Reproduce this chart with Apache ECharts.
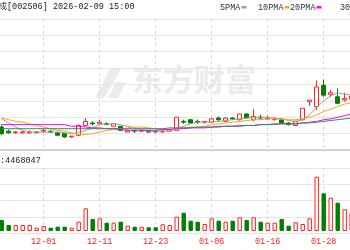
<!DOCTYPE html>
<html><head><meta charset="utf-8">
<script src="https://cdn.jsdelivr.net/npm/echarts@6/dist/echarts.min.js"></script>
<style>html,body{margin:0;padding:0;background:#fff;overflow:hidden}#c{width:350px;height:250px}</style>
</head><body><div id="c"></div>
<script>
const dates = ['11-20','11-21','11-24','11-25','11-26','11-27','11-28','12-01','12-02','12-03','12-04','12-05','12-08','12-09','12-10','12-11','12-12','12-15','12-16','12-17','12-18','12-19','12-22','12-23','12-24','12-25','12-26','12-29','12-30','12-31','01-05','01-06','01-07','01-08','01-09','01-12','01-13','01-14','01-15','01-16','01-19','01-20','01-21','01-22','01-23','01-26','01-27','01-28','01-29','01-30','02-02','02-03'];
// [open, close, low, high] from 11-21 onward (11-20 is outside the picture)
const candles = [
[2.68,2.60,2.58,2.71],[2.63,2.61,2.60,2.65],[2.61,2.62,2.60,2.63],[2.61,2.62,2.60,2.63],[2.61,2.62,2.60,2.64],
[2.61,2.62,2.61,2.63],[2.63,2.64,2.61,2.66],[2.63,2.62,2.61,2.64],[2.61,2.58,2.58,2.62],[2.60,2.56,2.55,2.60],
[2.56,2.57,2.55,2.57],[2.58,2.70,2.57,2.71],[2.70,2.75,2.69,2.79],[2.73,2.72,2.70,2.75],[2.72,2.74,2.71,2.77],
[2.72,2.71,2.71,2.74],[2.69,2.72,2.69,2.72],[2.69,2.64,2.64,2.69],[2.62,2.64,2.62,2.65],[2.64,2.63,2.61,2.65],
[2.63,2.64,2.62,2.64],[2.64,2.62,2.61,2.64],[2.63,2.62,2.61,2.64],[2.62,2.63,2.61,2.64],[2.63,2.65,2.62,2.66],
[2.64,2.80,2.64,2.80],[2.75,2.74,2.72,2.77],[2.77,2.73,2.72,2.78],[2.75,2.74,2.72,2.77],[2.74,2.75,2.72,2.75],
[2.74,2.78,2.73,2.79],[2.79,2.77,2.75,2.81],[2.75,2.79,2.74,2.80],[2.79,2.78,2.77,2.80],[2.77,2.84,2.76,2.84],
[2.84,2.79,2.79,2.85],[2.77,2.81,2.75,2.90],[2.80,2.79,2.77,2.83],[2.78,2.79,2.77,2.82],[2.77,2.78,2.76,2.80],
[2.77,2.73,2.72,2.79],[2.73,2.71,2.70,2.74],[2.70,2.75,2.70,2.75],[2.77,2.91,2.76,2.91],[2.99,3.01,2.94,3.01],
[2.93,3.17,2.89,3.25],[3.19,3.07,3.05,3.26],[3.08,3.10,3.05,3.13],[3.05,2.97,2.96,3.15],[3.01,3.03,2.99,3.10],
[3.02,3.06,2.99,3.08]
];
const ma5 = [2.78,2.73,2.68,2.64,2.62,2.62,2.62,2.62,2.62,2.61,2.60,2.61,2.64,2.67,2.71,2.72,2.72,2.71,2.69,2.67,2.65,2.63,2.63,2.63,2.63,2.67,2.69,2.72,2.74,2.74,2.74,2.75,2.76,2.77,2.78,2.79,2.80,2.80,2.80,2.79,2.78,2.76,2.75,2.77,2.83,2.92,3.00,3.06,3.10,3.08,3.07];
const ma10 = [2.79,2.77,2.75,2.74,2.72,2.70,2.68,2.66,2.64,2.63,2.61,2.59,2.59,2.60,2.62,2.64,2.65,2.66,2.67,2.68,2.68,2.67,2.66,2.65,2.65,2.66,2.67,2.68,2.68,2.69,2.71,2.72,2.73,2.74,2.75,2.76,2.77,2.77,2.78,2.78,2.78,2.77,2.77,2.78,2.80,2.83,2.87,2.90,2.93,2.96,2.98];
const ma20 = [2.71,2.71,2.71,2.71,2.71,2.71,2.71,2.71,2.71,2.71,2.69,2.69,2.68,2.67,2.67,2.66,2.66,2.65,2.64,2.64,2.64,2.64,2.64,2.65,2.65,2.66,2.66,2.67,2.67,2.67,2.68,2.68,2.69,2.69,2.69,2.70,2.70,2.71,2.71,2.72,2.72,2.72,2.72,2.73,2.74,2.75,2.77,2.78,2.80,2.82,2.84];
const ma30 = [2.66,2.66,2.66,2.66,2.66,2.66,2.66,2.66,2.66,2.66,2.66,2.66,2.66,2.66,2.66,2.66,2.66,2.66,2.66,2.66,2.66,2.66,2.66,2.66,2.67,2.67,2.67,2.67,2.68,2.68,2.68,2.69,2.69,2.69,2.70,2.70,2.70,2.71,2.71,2.71,2.72,2.72,2.72,2.73,2.73,2.74,2.75,2.76,2.77,2.78,2.79];
const volumes = [1015000,554000,554000,554000,554000,305000,462000,305000,397000,397000,305000,858000,2095000,1108000,1172000,766000,766000,858000,489000,397000,397000,342000,342000,618000,554000,1320000,1689000,951000,858000,646000,1172000,951000,858000,951000,1265000,1015000,1265000,858000,766000,766000,1108000,489000,803000,646000,1172000,5012000,3480000,3074000,2612000,2003000,1689000];
const title = '成[002506] 2026-02-09 15:00';
const volLabel = ':4468047';
const legendItems = [['5PMA','#a0a0a0'],['10PMA','#f5a623'],['20PMA','#ff00ff'],['30PMA','#2e8b57']];

const UP = '#ff2020', DOWN = '#008000';
const pad = v => ['-'].concat(v);
const volData = ['-'].concat(volumes.map((v, i) => {
  const up = candles[i][1] >= candles[i][0];
  return {value: v, itemStyle: up ? {color:'#fff', borderColor: UP, borderWidth: 1} : {color: DOWN, borderColor: DOWN, borderWidth: 1}};
}));
const labelInt = i => i >= 7 && (i - 7) % 8 === 0;
const mono = '"Liberation Mono","Noto Sans CJK SC",monospace';

const chart = echarts.init(document.getElementById('c'), null, {renderer: 'canvas'});
const legendGraphics = [];
const legendX = [220, 258, 290, 340];
legendItems.forEach((it, k) => {
  legendGraphics.push({type:'text', x: legendX[k], y: 3, style:{text: it[0], font: '8.5px ' + mono, fill:'#333'}});
  legendGraphics.push({type:'rect', shape:{x: legendX[k] + it[0].length*5.1 + 1, y: 6, width: 5, height: 2.5}, style:{fill: it[1]}});
});
chart.setOption({
  animation: false,
  backgroundColor: '#fff',
  grid: [
    {left: -5.3, top: 19, width: 357, height: 131, outerBoundsMode: 'none', containLabel: false},
    {left: -5.3, top: 168, width: 357, height: 65, outerBoundsMode: 'none', containLabel: false}
  ],
  xAxis: [
    {type:'category', gridIndex:0, data: dates, boundaryGap:false,
     axisLine:{show:true, lineStyle:{color:'#c8c8c8', width:1.5}}, axisTick:{show:false}, axisLabel:{show:false},
     splitLine:{show:true, interval: labelInt, lineStyle:{color:'#d8d8d8', type:[3,3]}}},
    {type:'category', gridIndex:1, data: dates, boundaryGap:false,
     axisLine:{show:false}, axisTick:{show:false},
     axisLabel:{show:true, interval: labelInt, color:'#ff2020', fontSize:8.5, fontFamily: mono, margin:4},
     splitLine:{show:true, interval: labelInt, lineStyle:{color:'#d8d8d8', type:[3,3]}}}
  ],
  yAxis: [
    {type:'value', gridIndex:0, min:2.4, max:4.0, interval:0.2, axisLine:{show:false}, axisTick:{show:false}, axisLabel:{show:false},
     splitLine:{show:true, lineStyle:{color:'#e6e6e6'}}},
    {type:'value', gridIndex:1, min:0, max:6000000, interval:1500000, axisLine:{show:false}, axisTick:{show:false}, axisLabel:{show:false},
     splitLine:{show:true, lineStyle:{color:'#e6e6e6'}}},
    {type:'value', gridIndex:1, min:-184615, max:5815385, show:false, splitLine:{show:false}}
  ],
  graphic: [
    {type:'text', x:132, y:64, silent:true, style:{text:'东方财富', font:'bold 31px "Noto Sans CJK SC"', fill:'#ebebeb'}},
    {type:'polygon', silent:true, shape:{points:[[110,68],[122,68],[104,98],[95,98]]}, style:{fill:'#ebebeb'}},
    {type:'polygon', silent:true, shape:{points:[[116,82],[126,82],[118,98],[108,98]]}, style:{fill:'#ebebeb'}},
    {type:'text', x:-1.5, y:2, style:{text: title, font:'8.5px ' + mono, fill:'#222'}},
    {type:'text', x:0, y:156, style:{text: volLabel, font:'8.5px ' + mono, fill:'#222'}}
  ].concat(legendGraphics),
  series: [
    {type:'candlestick', xAxisIndex:0, yAxisIndex:0, data: pad(candles), barWidth: 4.6, clip:false,
     itemStyle:{color:'#fff', color0: DOWN, borderColor: UP, borderColor0: DOWN, borderWidth:1}},
    {type:'line', xAxisIndex:0, yAxisIndex:0, data: pad(ma5), symbol:'none', lineStyle:{color:'#a0a0a0', width:1}},
    {type:'line', xAxisIndex:0, yAxisIndex:0, data: pad(ma10), symbol:'none', lineStyle:{color:'#f5a623', width:1}},
    {type:'line', xAxisIndex:0, yAxisIndex:0, data: pad(ma20), symbol:'none', lineStyle:{color:'#ff00ff', width:1}},
    {type:'line', xAxisIndex:0, yAxisIndex:0, data: pad(ma30), symbol:'none', lineStyle:{color:'#2e8b57', width:1}},
    {type:'bar', xAxisIndex:1, yAxisIndex:2, data: volData, barWidth: 4.4}
  ]
});
</script></body></html>
